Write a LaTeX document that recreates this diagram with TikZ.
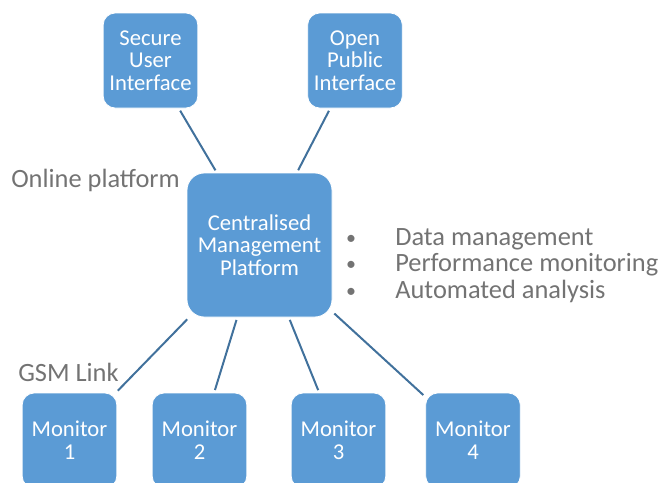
\documentclass[tikz,border=0pt]{standalone}
\usepackage{fontspec}
\setmainfont{Carlito}
\definecolor{boxblue}{HTML}{5B9BD5}
\definecolor{linkblue}{HTML}{41719C}
\definecolor{labelgray}{HTML}{737373}
\begin{document}
\begin{tikzpicture}[x=0.75pt,y=-0.75pt,
  box/.style={draw=white, line width=0.6pt, fill=boxblue, text=white, align=center,
    font=\fontsize{17}{17}\selectfont, inner sep=0pt},
  smallbox/.style={box, rounded corners=9pt, minimum width=71pt, minimum height=71.25pt},
  bigbox/.style={box, rounded corners=13pt, minimum width=108.75pt, minimum height=108pt},
  link/.style={draw=linkblue, line width=1.5pt, shorten <=2pt, shorten >=2pt},
  lbl/.style={text=labelgray, font=\fontsize{19.8}{19.8}\selectfont, inner sep=0pt, anchor=base west},
  bul/.style={text=labelgray, font=\fontsize{15}{15}\selectfont, inner sep=0pt, anchor=base}]
\useasboundingbox (0,0) rectangle (662,483);
\clip (0,0) rectangle (662,483);

\node[smallbox] (sec) at (150.5,60.5) {Secure\\User\\Interface};
\node[smallbox] (pub) at (355,60.5) {Open\\Public\\Interface};
\node[bigbox] (cmp) at (259.5,245) {Centralised\\Management\\Platform};
\node[smallbox] (m1) at (69.5,440.5) {Monitor\\1};
\node[smallbox] (m2) at (199.5,440.5) {Monitor\\2};
\node[smallbox] (m3) at (338.5,440.5) {Monitor\\3};
\node[smallbox] (m4) at (473,440.5) {Monitor\\4};

\draw[link] (sec) -- (cmp);
\draw[link] (pub) -- (cmp);
\draw[link] (cmp) -- (m1);
\draw[link] (cmp) -- (m2);
\draw[link] (cmp) -- (m3);
\draw[link] (cmp) -- (m4);

\node[lbl] (online) at (11,187) {Online platform};
\node[lbl] (gsm) at (18,381) {GSM Link};

\node[bul] (b1) at (351,244) {•};
\node[bul] (b2) at (351,270.5) {•};
\node[bul] (b3) at (351,297) {•};
\node[lbl] (t1) at (395,245) {Data management};
\node[lbl] (t2) at (395,271.5) {Performance monitoring};
\node[lbl] (t3) at (395,298) {Automated analysis};
\end{tikzpicture}
\end{document}
